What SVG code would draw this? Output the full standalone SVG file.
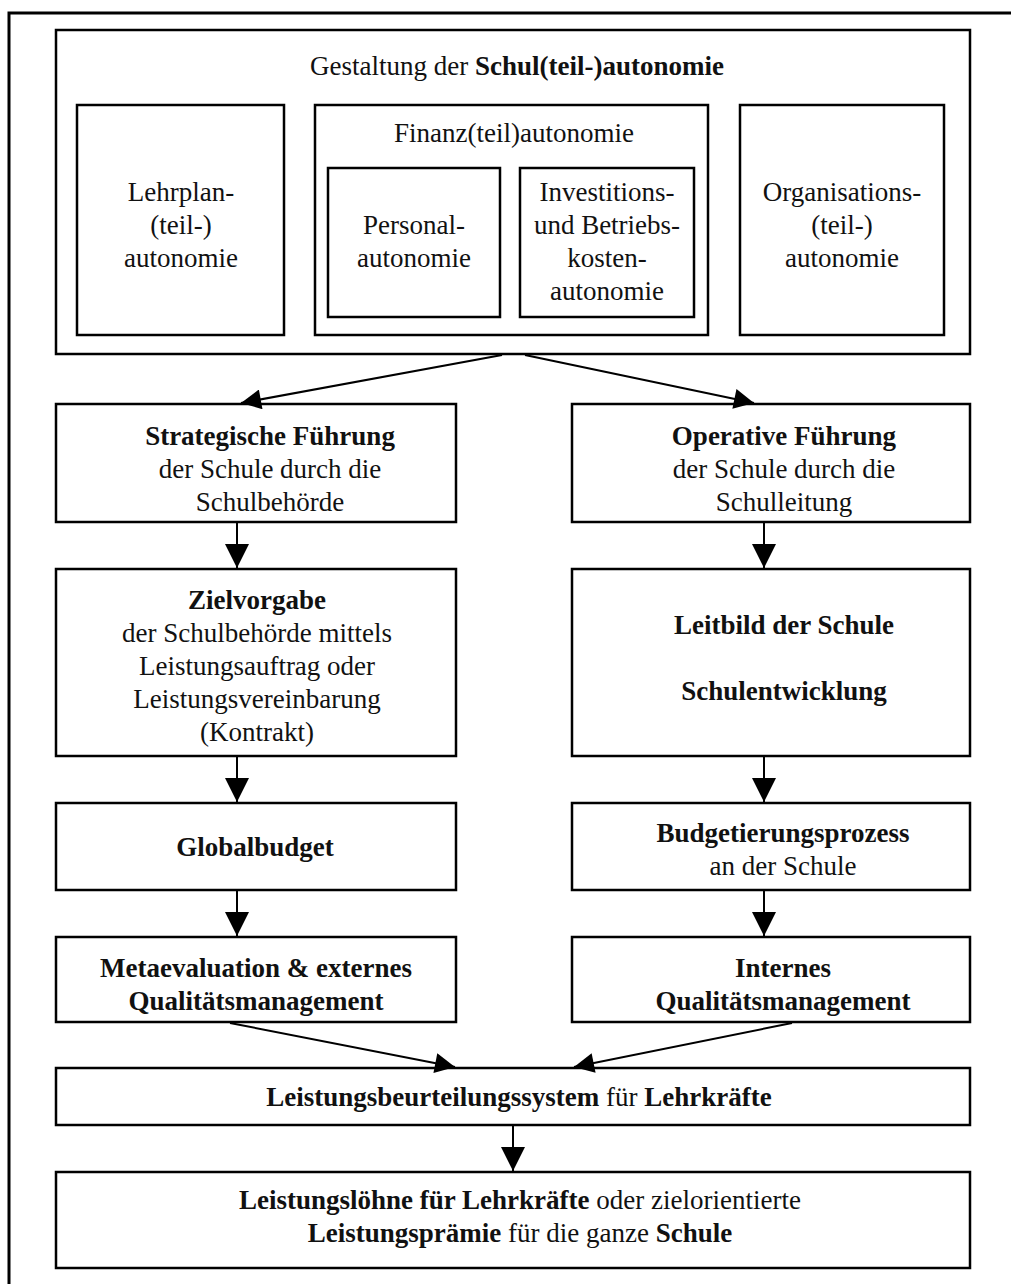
<svg xmlns="http://www.w3.org/2000/svg" width="1011" height="1284" viewBox="0 0 1011 1284">
<style>
rect{fill:#fff;stroke:#000;stroke-width:2.5}
text{font-family:"Liberation Serif","Times New Roman",serif;font-size:27px;fill:#111;text-anchor:middle}
.b{font-weight:bold}
.c line{stroke:#000;stroke-width:2}
</style>
<defs>
<marker id="av" viewBox="0 0 10 10" refX="10" refY="5" markerWidth="32" markerHeight="24" markerUnits="userSpaceOnUse" orient="auto"><path d="M0,0 L10,5 L0,10 z" fill="#000"/></marker>
<marker id="ad" viewBox="0 0 10 10" refX="10" refY="5" markerWidth="30" markerHeight="20" markerUnits="userSpaceOnUse" orient="auto"><path d="M0,0 L10,5 L0,10 z" fill="#000"/></marker>
</defs>
<path d="M9,1290 V13 H1020" fill="none" stroke="#000" stroke-width="3"/>
<g id="top">
<rect x="56" y="30" width="914" height="324"/>
<text x="517" y="75">Gestaltung der <tspan class="b">Schul(teil-)autonomie</tspan></text>
</g>
<g id="lehrplan">
<rect x="77" y="105" width="207" height="230"/>
<text x="181" y="201">Lehrplan-</text><text x="181" y="234">(teil-)</text><text x="181" y="267">autonomie</text>
</g>
<g id="finanz">
<rect x="315" y="105" width="393" height="230"/>
<text x="514" y="142">Finanz(teil)autonomie</text>
</g>
<g id="personal">
<rect x="328" y="168" width="172" height="149"/>
<text x="414" y="234">Personal-</text><text x="414" y="267">autonomie</text>
</g>
<g id="invest">
<rect x="520" y="168" width="174" height="149"/>
<text x="607" y="201">Investitions-</text><text x="607" y="234">und Betriebs-</text><text x="607" y="267">kosten-</text><text x="607" y="300">autonomie</text>
</g>
<g id="organisation">
<rect x="740" y="105" width="204" height="230"/>
<text x="842" y="201">Organisations-</text><text x="842" y="234">(teil-)</text><text x="842" y="267">autonomie</text>
</g>
<g id="strategisch">
<rect x="56" y="404" width="400" height="118"/>
<text x="270" y="445" class="b">Strategische Führung</text><text x="270" y="478">der Schule durch die</text><text x="270" y="511">Schulbehörde</text>
</g>
<g id="operativ">
<rect x="572" y="404" width="398" height="118"/>
<text x="784" y="445" class="b">Operative Führung</text><text x="784" y="478">der Schule durch die</text><text x="784" y="511">Schulleitung</text>
</g>
<g id="ziel">
<rect x="56" y="569" width="400" height="187"/>
<text x="257" y="609" class="b">Zielvorgabe</text><text x="257" y="642">der Schulbehörde mittels</text><text x="257" y="675">Leistungsauftrag oder</text><text x="257" y="708">Leistungsvereinbarung</text><text x="257" y="741">(Kontrakt)</text>
</g>
<g id="leitbild">
<rect x="572" y="569" width="398" height="187"/>
<text x="784" y="634" class="b">Leitbild der Schule</text><text x="784" y="700" class="b">Schulentwicklung</text>
</g>
<g id="global">
<rect x="56" y="803" width="400" height="87"/>
<text x="255" y="856" class="b">Globalbudget</text>
</g>
<g id="budget">
<rect x="572" y="803" width="398" height="87"/>
<text x="783" y="842" class="b">Budgetierungsprozess</text><text x="783" y="875">an der Schule</text>
</g>
<g id="meta">
<rect x="56" y="937" width="400" height="85"/>
<text x="256" y="977" class="b">Metaevaluation &amp; externes</text><text x="256" y="1010" class="b">Qualitätsmanagement</text>
</g>
<g id="intern">
<rect x="572" y="937" width="398" height="85"/>
<text x="783" y="977" class="b">Internes</text><text x="783" y="1010" class="b">Qualitätsmanagement</text>
</g>
<g id="beurteilung">
<rect x="56" y="1068" width="914" height="57"/>
<text x="519" y="1106"><tspan class="b">Leistungsbeurteilungssystem</tspan> für <tspan class="b">Lehrkräfte</tspan></text>
</g>
<g id="loehne">
<rect x="56" y="1172" width="914" height="96"/>
<text x="520" y="1209"><tspan class="b">Leistungslöhne für Lehrkräfte</tspan> oder zielorientierte</text>
<text x="520" y="1242"><tspan class="b">Leistungsprämie</tspan> für die ganze <tspan class="b">Schule</tspan></text>
</g>
<g class="c">
<line x1="502" y1="355" x2="241" y2="403" marker-end="url(#ad)"/>
<line x1="525" y1="355" x2="754" y2="403" marker-end="url(#ad)"/>
<line x1="237" y1="523" x2="237" y2="568" marker-end="url(#av)"/>
<line x1="764" y1="523" x2="764" y2="568" marker-end="url(#av)"/>
<line x1="237" y1="757" x2="237" y2="802" marker-end="url(#av)"/>
<line x1="764" y1="757" x2="764" y2="802" marker-end="url(#av)"/>
<line x1="237" y1="891" x2="237" y2="936" marker-end="url(#av)"/>
<line x1="764" y1="891" x2="764" y2="936" marker-end="url(#av)"/>
<line x1="230" y1="1023" x2="455" y2="1067" marker-end="url(#ad)"/>
<line x1="792" y1="1023" x2="574" y2="1067" marker-end="url(#ad)"/>
<line x1="513" y1="1126" x2="513" y2="1171" marker-end="url(#av)"/>
</g>
</svg>
